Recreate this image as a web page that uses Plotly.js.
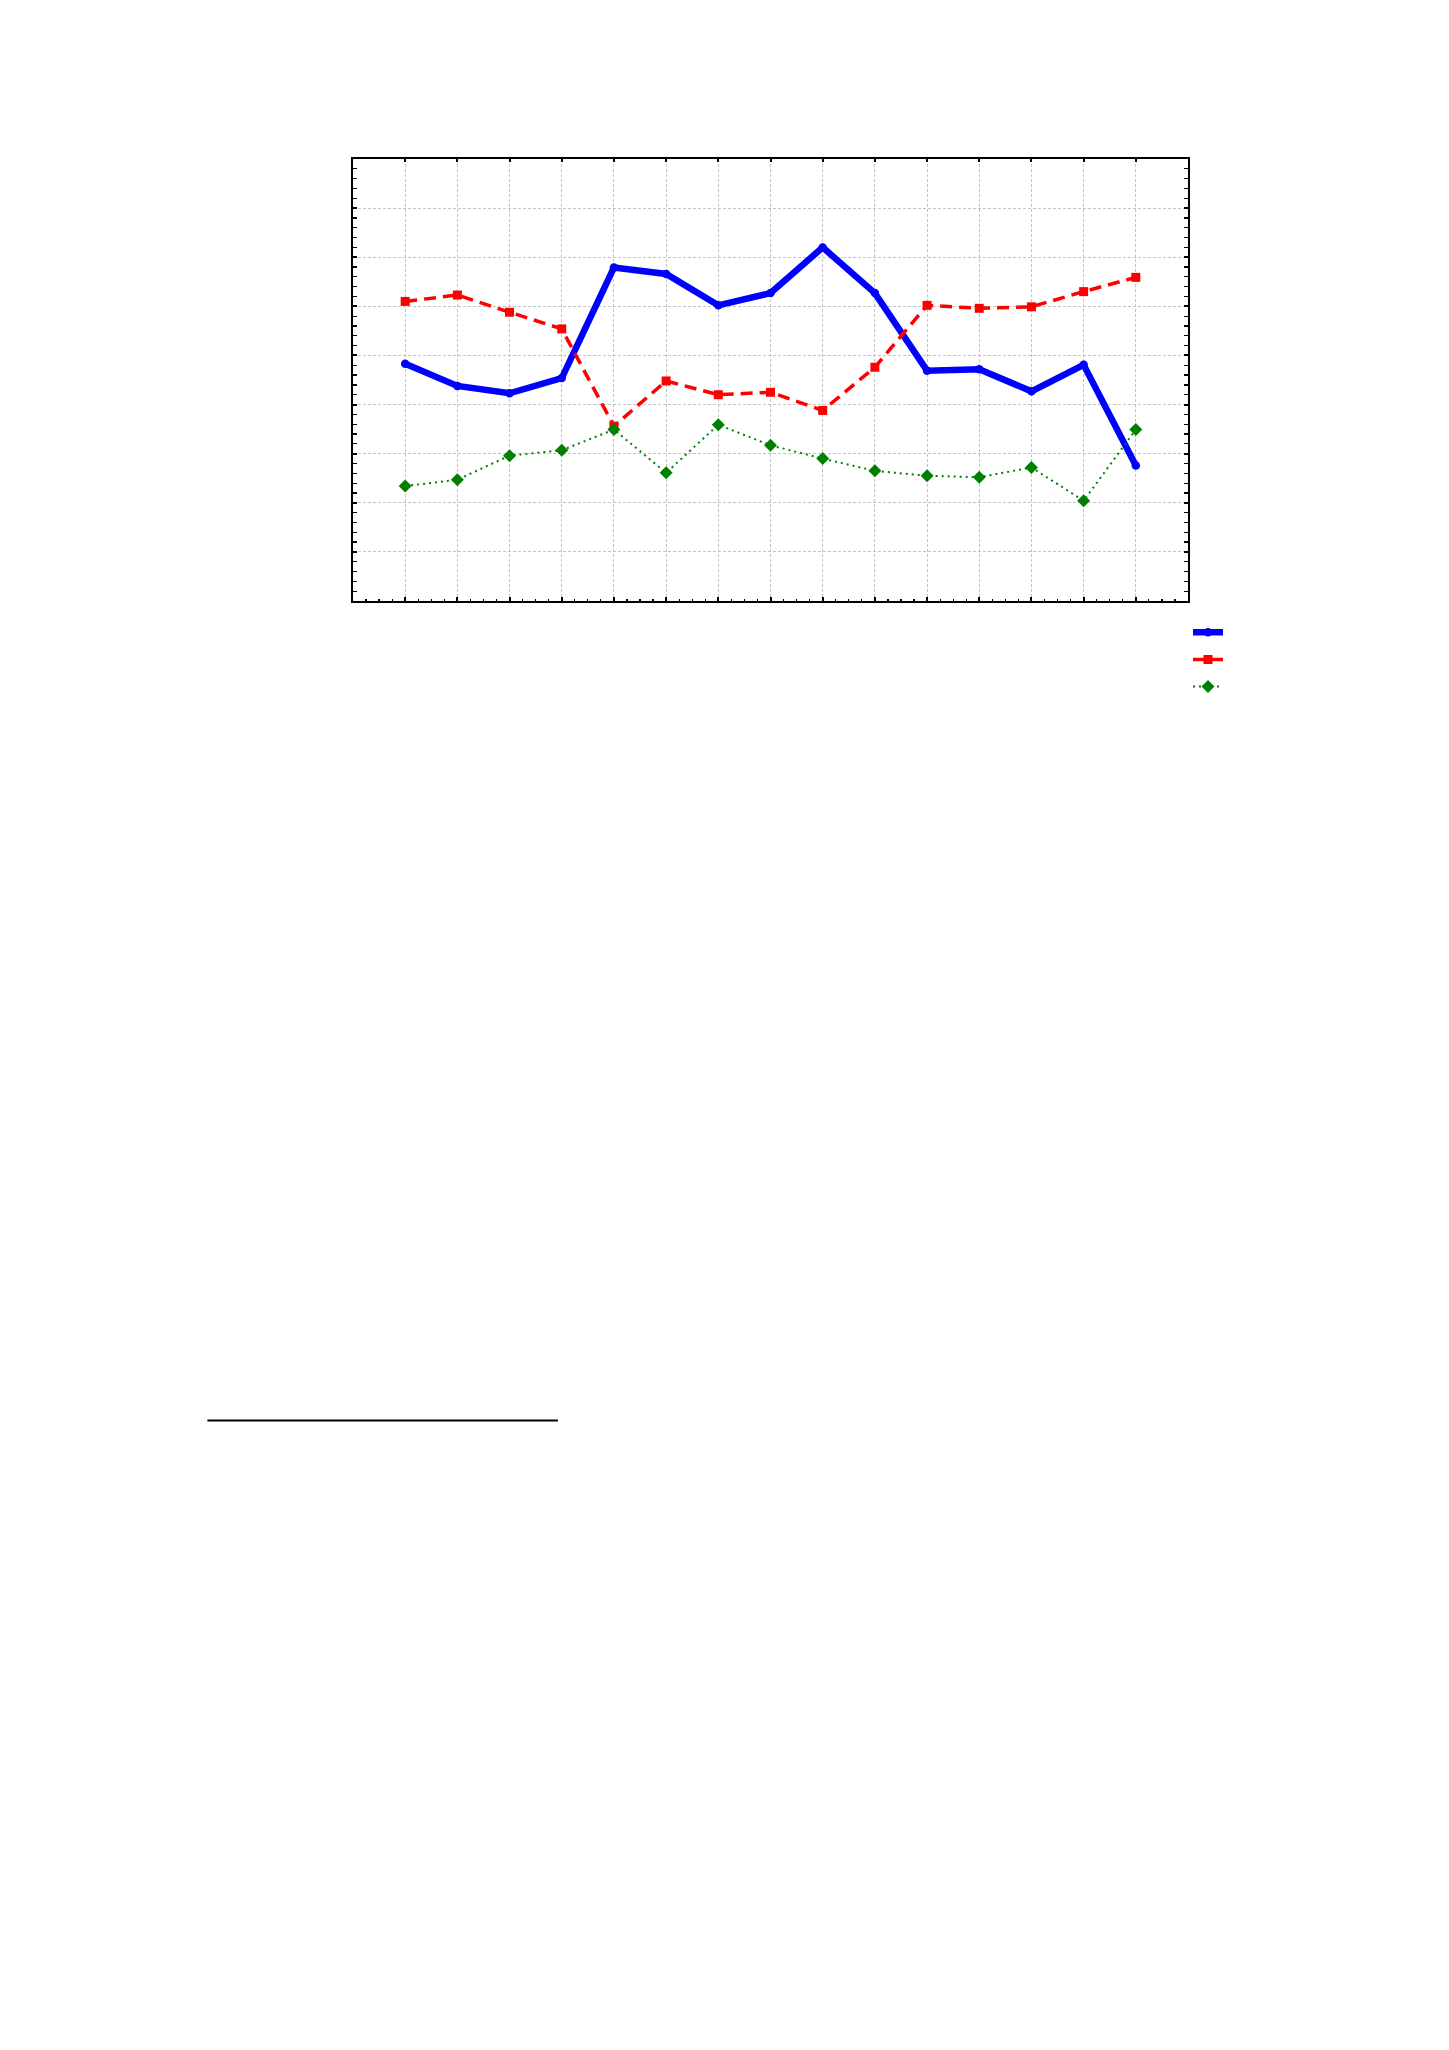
<!DOCTYPE html>
<html>
<head>
<meta charset="utf-8">
<script src="https://cdn.plot.ly/plotly-3.0.1.min.js"></script>
<style>
  html, body { margin: 0; padding: 0; background: #ffffff; }
  #chart { width: 1449px; height: 2050px; }
</style>
</head>
<body>
<div id="chart"></div>
<script>
// Categories (positions 1..15 along the x axis)
var categories = [1, 2, 3, 4, 5, 6, 7, 8, 9, 10, 11, 12, 13, 14, 15];

// Series values
var seriesBlue  = [4.83, 4.38, 4.23, 4.54, 6.79, 6.66, 6.02, 6.27, 7.20, 6.27, 4.69, 4.72, 4.27, 4.81, 2.76];
var seriesRed   = [6.10, 6.23, 5.88, 5.54, 3.56, 4.48, 4.20, 4.25, 3.88, 4.76, 6.02, 5.96, 5.99, 6.30, 6.59];
var seriesGreen = [2.34, 2.47, 2.96, 3.07, 3.49, 2.61, 3.59, 3.17, 2.90, 2.65, 2.55, 2.52, 2.72, 2.04, 3.49];

// Series names (no visible text in the reference)
var seriesNames = ['', '', ''];

var traces = [
  {
    x: categories, y: seriesBlue, name: seriesNames[0], type: 'scatter', mode: 'lines+markers',
    line: { color: '#0000ff', width: 6.5 },
    marker: { color: '#0000ff', size: 8.5, symbol: 'circle' }
  },
  {
    x: categories, y: seriesRed, name: seriesNames[1], type: 'scatter', mode: 'lines+markers',
    line: { color: '#ff0000', width: 3.5, dash: '12px,7px' },
    marker: { color: '#ff0000', size: 9, symbol: 'square' }
  },
  {
    x: categories, y: seriesGreen, name: seriesNames[2], type: 'scatter', mode: 'lines+markers',
    line: { color: '#008000', width: 2, dash: '2px,4px' },
    marker: { color: '#008000', size: 10, symbol: 'diamond' }
  },
  // empty helper trace so the top tick axis is drawn
  { x: [], y: [], xaxis: 'x2', yaxis: 'y', type: 'scatter', mode: 'lines', showlegend: false, hoverinfo: 'skip' }
];

var gridCommon = { showgrid: true, gridcolor: '#c4c4c4', gridwidth: 1, griddash: '3px,2px' };

var layout = {
  width: 1449, height: 2050,
  margin: { l: 353, r: 261, t: 159, b: 1449, pad: 0 },
  paper_bgcolor: '#ffffff', plot_bgcolor: '#ffffff',
  showlegend: true,
  legend: {
    x: 1.0, xanchor: 'left', y: -0.029, yanchor: 'top',
    font: { family: 'Liberation Sans, Arial, sans-serif', size: 18.5, color: '#000000' },
    bgcolor: 'rgba(0,0,0,0)', borderwidth: 0
  },
  xaxis: Object.assign({}, gridCommon, {
    range: [0, 16], dtick: 1, tick0: 0, fixedrange: true,
    showline: true, linecolor: '#000000', linewidth: 2, mirror: true,
    ticks: 'inside', ticklen: 4, tickwidth: 2, tickcolor: '#000000',
    showticklabels: false, zeroline: false,
    minor: { dtick: 0.25, ticks: 'inside', ticklen: 2.5, tickwidth: 1.2, tickcolor: '#000000', showgrid: false }
  }),
  xaxis2: {
    overlaying: 'x', side: 'top', anchor: 'y',
    range: [0, 16], dtick: 1, tick0: 0, fixedrange: true,
    showline: false, showgrid: false, zeroline: false, showticklabels: false,
    ticks: 'inside', ticklen: 2.5, tickwidth: 2, tickcolor: '#000000'
  },
  yaxis: Object.assign({}, gridCommon, {
    range: [0, 9], dtick: 1, tick0: 0, fixedrange: true,
    showline: true, linecolor: '#000000', linewidth: 2, mirror: 'allticks',
    ticks: 'inside', ticklen: 4, tickwidth: 2, tickcolor: '#000000',
    showticklabels: false, zeroline: false,
    minor: { dtick: 0.2, ticks: 'inside', ticklen: 2.5, tickwidth: 1.2, tickcolor: '#000000', showgrid: false }
  }),
  shapes: [
    {
      type: 'line', xref: 'paper', yref: 'paper',
      x0: -0.1744, x1: 0.2454, y0: -1.854, y1: -1.854,
      line: { color: '#000000', width: 2 }
    }
  ]
};

Plotly.newPlot('chart', traces, layout, { displayModeBar: false, staticPlot: true });
</script>
</body>
</html>
